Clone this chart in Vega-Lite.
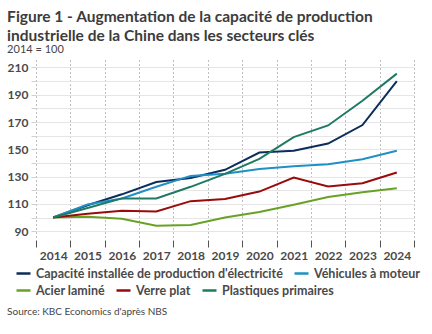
{
  "$schema": "https://vega.github.io/schema/vega-lite/v6.json",
  "padding": {"left": 7, "top": 9, "right": 6, "bottom": 2},
  "background": "white",
  "title": {
    "text": ["Figure 1 - Augmentation de la capacité de production", "industrielle de la Chine dans les secteurs clés"],
    "subtitle": "2014 = 100",
    "anchor": "start",
    "font": "Lato",
    "fontSize": 15.5,
    "fontWeight": "bold",
    "color": "#3c3c3c",
    "lineHeight": 19,
    "subtitleFont": "Lato",
    "subtitleFontSize": 11,
    "subtitleColor": "#444444",
    "subtitlePadding": 0,
    "offset": 5
  },
  "config": {
    "view": {"stroke": null},
    "font": "Lato",
    "concat": {"spacing": 0}
  },
  "vconcat": [
    {
      "width": 378,
      "height": 180,
      "title": {
        "text": "Source: KBC Economics d'après NBS",
        "orient": "bottom",
        "anchor": "start",
        "font": "Lato",
        "fontSize": 10,
        "fontWeight": "normal",
        "color": "#444444",
        "offset": 46
      },
      "data": {
        "values": [
          {"year": "2014", "series": "Capacité installée de production d'électricité", "value": 100},
          {"year": "2015", "series": "Capacité installée de production d'électricité", "value": 109},
          {"year": "2016", "series": "Capacité installée de production d'électricité", "value": 117},
          {"year": "2017", "series": "Capacité installée de production d'électricité", "value": 126},
          {"year": "2018", "series": "Capacité installée de production d'électricité", "value": 129},
          {"year": "2019", "series": "Capacité installée de production d'électricité", "value": 135},
          {"year": "2020", "series": "Capacité installée de production d'électricité", "value": 147.6},
          {"year": "2021", "series": "Capacité installée de production d'électricité", "value": 149},
          {"year": "2022", "series": "Capacité installée de production d'électricité", "value": 154.2},
          {"year": "2023", "series": "Capacité installée de production d'électricité", "value": 167.8},
          {"year": "2024", "series": "Capacité installée de production d'électricité", "value": 200},
          {"year": "2014", "series": "Véhicules à moteur", "value": 100},
          {"year": "2015", "series": "Véhicules à moteur", "value": 109.5},
          {"year": "2016", "series": "Véhicules à moteur", "value": 114},
          {"year": "2017", "series": "Véhicules à moteur", "value": 122.5},
          {"year": "2018", "series": "Véhicules à moteur", "value": 130.5},
          {"year": "2019", "series": "Véhicules à moteur", "value": 132},
          {"year": "2020", "series": "Véhicules à moteur", "value": 135.5},
          {"year": "2021", "series": "Véhicules à moteur", "value": 137.5},
          {"year": "2022", "series": "Véhicules à moteur", "value": 139},
          {"year": "2023", "series": "Véhicules à moteur", "value": 142.7},
          {"year": "2024", "series": "Véhicules à moteur", "value": 149},
          {"year": "2014", "series": "Acier laminé", "value": 100},
          {"year": "2015", "series": "Acier laminé", "value": 100.5},
          {"year": "2016", "series": "Acier laminé", "value": 99},
          {"year": "2017", "series": "Acier laminé", "value": 94},
          {"year": "2018", "series": "Acier laminé", "value": 94.5},
          {"year": "2019", "series": "Acier laminé", "value": 100},
          {"year": "2020", "series": "Acier laminé", "value": 104},
          {"year": "2021", "series": "Acier laminé", "value": 109.3},
          {"year": "2022", "series": "Acier laminé", "value": 115},
          {"year": "2023", "series": "Acier laminé", "value": 118.5},
          {"year": "2024", "series": "Acier laminé", "value": 121.5},
          {"year": "2014", "series": "Verre plat", "value": 100},
          {"year": "2015", "series": "Verre plat", "value": 102.7},
          {"year": "2016", "series": "Verre plat", "value": 105},
          {"year": "2017", "series": "Verre plat", "value": 104.4},
          {"year": "2018", "series": "Verre plat", "value": 112},
          {"year": "2019", "series": "Verre plat", "value": 113.5},
          {"year": "2020", "series": "Verre plat", "value": 119},
          {"year": "2021", "series": "Verre plat", "value": 129.3},
          {"year": "2022", "series": "Verre plat", "value": 122.8},
          {"year": "2023", "series": "Verre plat", "value": 125.1},
          {"year": "2024", "series": "Verre plat", "value": 133},
          {"year": "2014", "series": "Plastiques primaires", "value": 100},
          {"year": "2015", "series": "Plastiques primaires", "value": 107},
          {"year": "2016", "series": "Plastiques primaires", "value": 114},
          {"year": "2017", "series": "Plastiques primaires", "value": 114},
          {"year": "2018", "series": "Plastiques primaires", "value": 122.5},
          {"year": "2019", "series": "Plastiques primaires", "value": 132},
          {"year": "2020", "series": "Plastiques primaires", "value": 143},
          {"year": "2021", "series": "Plastiques primaires", "value": 159},
          {"year": "2022", "series": "Plastiques primaires", "value": 167.5},
          {"year": "2023", "series": "Plastiques primaires", "value": 185.6},
          {"year": "2024", "series": "Plastiques primaires", "value": 205.5}
        ]
      },
      "encoding": {
        "x": {
          "field": "year",
          "type": "ordinal",
          "scale": {"type": "band", "paddingInner": 0, "paddingOuter": 0},
          "axis": {
            "title": null,
            "labelAngle": 0,
            "tickBand": "extent",
            "domain": false,
            "grid": true,
            "gridColor": "#7a7a7a",
            "gridDash": [1, 3],
            "gridWidth": 1,
            "ticks": true,
            "tickColor": "#555555",
            "tickSize": 7,
            "labelFont": "Lato",
            "labelFontWeight": "bold",
            "labelFontSize": 12,
            "labelColor": "#4a4a4a",
            "labelPadding": 3
          }
        },
        "y": {
          "field": "value",
          "type": "quantitative",
          "scale": {"domain": [83.5, 215.5], "nice": false, "zero": false},
          "axis": {
            "title": null,
            "values": [90, 100, 110, 120, 130, 140, 150, 160, 170, 180, 190, 200, 210],
            "labelExpr": "datum.value % 20 == 10 ? datum.label : ''",
            "domain": false,
            "grid": true,
            "gridColor": "#e6e6e6",
            "gridWidth": 1,
            "ticks": true,
            "tickColor": "#d0d0d0",
            "tickSize": 5,
            "labelFont": "Lato",
            "labelFontWeight": "bold",
            "labelFontSize": 12,
            "labelColor": "#4a4a4a",
            "labelPadding": 3
          }
        }
      },
      "layer": [
        {
          "transform": [{"filter": "datum.series == \"Capacité installée de production d'électricité\" || datum.series == 'Véhicules à moteur'"}],
          "mark": {"type": "line", "strokeWidth": 2},
          "encoding": {
            "color": {
              "field": "series",
              "type": "nominal",
              "scale": {
                "domain": ["Capacité installée de production d'électricité", "Véhicules à moteur"],
                "range": ["#0c2c5c", "#1f90c6"]
              },
              "legend": {
                "title": null,
                "orient": "none",
                "legendX": -21,
                "legendY": 205,
                "direction": "horizontal",
                "symbolType": "stroke",
                "symbolStrokeWidth": 2.5,
                "symbolSize": 196,
                "labelFont": "Lato",
                "labelFontWeight": "bold",
                "labelFontSize": 12.5,
                "labelColor": "#4a4a4a",
                "labelLimit": 400,
                "columnPadding": 6,
                "labelOffset": 4
              }
            }
          }
        },
        {
          "transform": [{"filter": "datum.series == 'Acier laminé' || datum.series == 'Verre plat' || datum.series == 'Plastiques primaires'"}],
          "mark": {"type": "line", "strokeWidth": 2},
          "encoding": {
            "stroke": {
              "field": "series",
              "type": "nominal",
              "scale": {
                "domain": ["Acier laminé", "Verre plat", "Plastiques primaires"],
                "range": ["#68a224", "#990a0a", "#1e7a62"]
              },
              "legend": {
                "title": null,
                "orient": "none",
                "legendX": -21,
                "legendY": 222,
                "direction": "horizontal",
                "symbolType": "stroke",
                "symbolStrokeWidth": 2.5,
                "symbolSize": 196,
                "labelFont": "Lato",
                "labelFontWeight": "bold",
                "labelFontSize": 12.5,
                "labelColor": "#4a4a4a",
                "labelLimit": 400,
                "columnPadding": 6,
                "labelOffset": 4
              }
            }
          }
        }
      ]
    }
  ]
}
